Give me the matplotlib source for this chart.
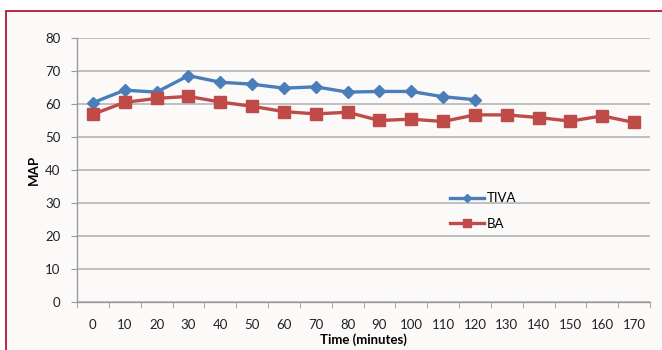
import matplotlib.pyplot as plt
import matplotlib.patches as patches
import numpy as np

plt.rcParams['font.family'] = ['Lato', 'DejaVu Sans']

# Mean arterial pressure over time for the two anaesthesia groups
time_min = [0, 10, 20, 30, 40, 50, 60, 70, 80, 90, 100, 110, 120,
            130, 140, 150, 160, 170]
tiva = [60.4, 64.2, 63.6, 68.6, 66.6, 66.0, 64.8, 65.2, 63.6, 63.8,
        63.8, 62.2, 61.3]
ba = [56.9, 60.5, 61.7, 62.3, 60.6, 59.3, 57.7, 57.0, 57.5, 55.0,
      55.4, 54.7, 56.7, 56.7, 55.9, 54.8, 56.4, 54.4]

fig = plt.figure(figsize=(6.62, 3.5), dpi=100)
fig.patch.set_facecolor('white')

# outer frame, kept behind the axes
frame = patches.Rectangle((6 / 662, -0.05), 1.2, 1 - 11 / 350 + 0.05,
                          transform=fig.transFigure, facecolor='#fcf9f9',
                          edgecolor='#b0193a', linewidth=1.3, zorder=-10)
fig.patches.append(frame)

ax = fig.add_axes([77 / 662, 1 - 302 / 350, (650 - 77) / 662, (302 - 38) / 350])
ax.set_facecolor('none')
ax.set_zorder(5)

idx_tiva = np.arange(len(tiva))
idx_ba = np.arange(len(ba))

ax.plot(idx_tiva, tiva, color='#4a7ebb', lw=2.4, marker='D', ms=6,
        mec='#4a7ebb', label='TIVA', zorder=3)
ax.plot(idx_ba, ba, color='#be4b48', lw=2.4, marker='s', ms=8,
        mec='#be4b48', label='BA', zorder=3)

ax.set_xlim(-0.5, len(time_min) - 0.5)
ax.set_ylim(0, 80)
ax.set_yticks(range(0, 81, 10))
ax.set_xticks(range(len(time_min)))
ax.set_xticklabels([str(t) for t in time_min])
ax.set_xticks(np.arange(-0.5, len(time_min), 1), minor=True)

ax.grid(axis='y', color='#b5b5b5', lw=1.2)
ax.set_axisbelow(True)
for s in ['top', 'right']:
    ax.spines[s].set_visible(False)
for s in ['left', 'bottom']:
    ax.spines[s].set_color('#9a9a9a')
    ax.spines[s].set_linewidth(1.0)

ax.tick_params(axis='x', which='major', length=0, pad=12, labelsize=9.5,
               colors='#222222')
ax.tick_params(axis='x', which='minor', length=4, color='#9a9a9a')
ax.tick_params(axis='y', length=4, color='#9a9a9a', labelsize=9.5,
               labelcolor='#222222', pad=8)

ax.set_xlabel('Time (minutes)', fontsize=9.5, fontweight='bold', labelpad=2)
ax.set_ylabel('MAP', fontsize=9.5, fontweight='bold', labelpad=4)

ax.legend(loc='upper left', bbox_to_anchor=(0.63, 0.46), frameon=False,
          fontsize=9.5, handlelength=2.6, labelspacing=1.0,
          handletextpad=0.2, markerscale=0.7)

fig.savefig('out.png', dpi=100)
